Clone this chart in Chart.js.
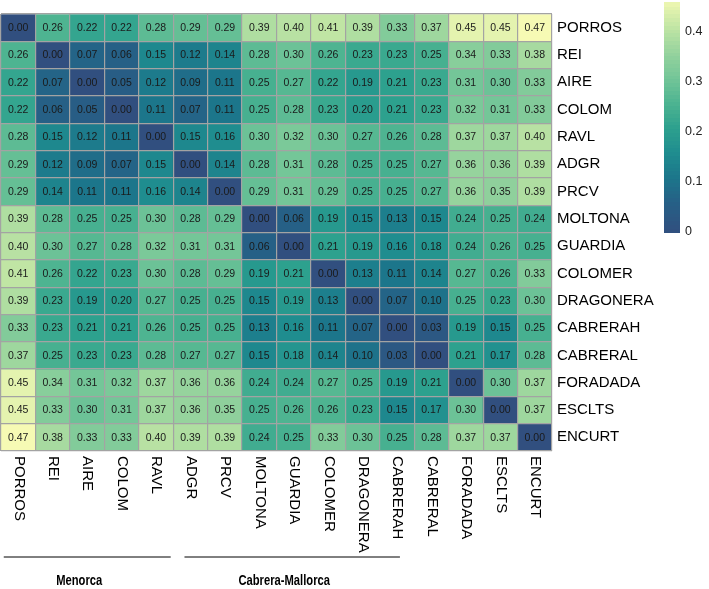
<!DOCTYPE html>
<html>
<head>
<meta charset="utf-8">
<script src="https://cdn.jsdelivr.net/npm/chart.js@4.4.1/dist/chart.umd.min.js"></script>
<style>
  body{margin:0;background:#fff}
</style>
</head>
<body>
<canvas id="chart" width="709" height="589"></canvas>
<script>
const sites = ['PORROS','REI','AIRE','COLOM','RAVL','ADGR','PRCV','MOLTONA','GUARDIA','COLOMER','DRAGONERA','CABRERAH','CABRERAL','FORADADA','ESCLTS','ENCURT']

// pairwise distances, one row per site
const porros    = [0.00,0.26,0.22,0.22,0.28,0.29,0.29,0.39,0.40,0.41,0.39,0.33,0.37,0.45,0.45,0.47]
const rei       = [0.26,0.00,0.07,0.06,0.15,0.12,0.14,0.28,0.30,0.26,0.23,0.23,0.25,0.34,0.33,0.38]
const aire      = [0.22,0.07,0.00,0.05,0.12,0.09,0.11,0.25,0.27,0.22,0.19,0.21,0.23,0.31,0.30,0.33]
const colom     = [0.22,0.06,0.05,0.00,0.11,0.07,0.11,0.25,0.28,0.23,0.20,0.21,0.23,0.32,0.31,0.33]
const ravl      = [0.28,0.15,0.12,0.11,0.00,0.15,0.16,0.30,0.32,0.30,0.27,0.26,0.28,0.37,0.37,0.40]
const adgr      = [0.29,0.12,0.09,0.07,0.15,0.00,0.14,0.28,0.31,0.28,0.25,0.25,0.27,0.36,0.36,0.39]
const prcv      = [0.29,0.14,0.11,0.11,0.16,0.14,0.00,0.29,0.31,0.29,0.25,0.25,0.27,0.36,0.35,0.39]
const moltona   = [0.39,0.28,0.25,0.25,0.30,0.28,0.29,0.00,0.06,0.19,0.15,0.13,0.15,0.24,0.25,0.24]
const guardia   = [0.40,0.30,0.27,0.28,0.32,0.31,0.31,0.06,0.00,0.21,0.19,0.16,0.18,0.24,0.26,0.25]
const colomer   = [0.41,0.26,0.22,0.23,0.30,0.28,0.29,0.19,0.21,0.00,0.13,0.11,0.14,0.27,0.26,0.33]
const dragonera = [0.39,0.23,0.19,0.20,0.27,0.25,0.25,0.15,0.19,0.13,0.00,0.07,0.10,0.25,0.23,0.30]
const cabrerah  = [0.33,0.23,0.21,0.21,0.26,0.25,0.25,0.13,0.16,0.11,0.07,0.00,0.03,0.19,0.15,0.25]
const cabreral  = [0.37,0.25,0.23,0.23,0.28,0.27,0.27,0.15,0.18,0.14,0.10,0.03,0.00,0.21,0.17,0.28]
const foradada  = [0.45,0.34,0.31,0.32,0.37,0.36,0.36,0.24,0.24,0.27,0.25,0.19,0.21,0.00,0.30,0.37]
const esclts    = [0.45,0.33,0.30,0.31,0.37,0.36,0.35,0.25,0.26,0.26,0.23,0.15,0.17,0.30,0.00,0.37]
const encurt    = [0.47,0.38,0.33,0.33,0.40,0.39,0.39,0.24,0.25,0.33,0.30,0.25,0.28,0.37,0.37,0.00]

const rows = [porros,rei,aire,colom,ravl,adgr,prcv,moltona,guardia,colomer,dragonera,cabrerah,cabreral,foradada,esclts,encurt]

const legendTicks = [0, 0.1, 0.2, 0.3, 0.4]
const legendMax = 0.46
const groupNames = ['Menorca', 'Cabrera-Mallorca']

// colour ramp (dark blue -> teal -> green -> pale yellow)
const ramp = [
  [0.00, [49,79,127]],
  [0.06, [38,96,134]],
  [0.11, [28,118,139]],
  [0.16, [31,141,143]],
  [0.21, [45,161,142]],
  [0.26, [78,180,145]],
  [0.31, [116,198,152]],
  [0.36, [150,211,157]],
  [0.41, [192,229,164]],
  [0.47, [246,250,180]]
]
function colorFor(v){
  if(v <= ramp[0][0]) return 'rgb(' + ramp[0][1].join(',') + ')'
  for(let i=1;i<ramp.length;i++){
    if(v <= ramp[i][0]){
      let t=(v-ramp[i-1][0])/(ramp[i][0]-ramp[i-1][0])
      let a=ramp[i-1][1], b=ramp[i][1]
      return 'rgb(' + a.map((c,k)=>Math.round(c+(b[k]-c)*t)).join(',') + ')'
    }
  }
  return 'rgb(' + ramp[ramp.length-1][1].join(',') + ')'
}

const FONT = '"Liberation Sans", Arial, Helvetica, sans-serif'

const datasets = rows.map((vals, r) => ({
  label: sites[r],
  data: vals.map(() => [r, r+1]),
  backgroundColor: vals.map(v => colorFor(v)),
  borderWidth: 0,
  barPercentage: 1,
  categoryPercentage: 1,
  grouped: false
}))

const cellText = {
  id: 'cellText',
  afterDraw(chart){
    const ctx = chart.ctx
    ctx.save()
    ctx.font = '10.5px ' + FONT
    ctx.fillStyle = '#1a1a1a'
    ctx.textAlign = 'center'
    ctx.textBaseline = 'middle'
    chart.data.datasets.forEach((ds, i) => {
      chart.getDatasetMeta(i).data.forEach((bar, j) => {
        ctx.fillText(rows[i][j].toFixed(2), bar.x, (bar.y + bar.base) / 2 + 0.5)
      })
    })
    ctx.restore()
  }
}

const bottomLabels = {
  id: 'bottomLabels',
  afterDraw(chart){
    const ctx = chart.ctx
    const xs = chart.scales.x
    const area = chart.chartArea
    ctx.save()
    ctx.font = '15px ' + FONT
    ctx.fillStyle = '#000'
    ctx.textAlign = 'left'
    ctx.textBaseline = 'middle'
    sites.forEach((s, i) => {
      ctx.save()
      ctx.translate(xs.getPixelForValue(i) + 0.5, area.bottom + 5)
      ctx.rotate(Math.PI / 2)
      ctx.fillText(s, 0, 0)
      ctx.restore()
    })
    // group brackets
    const w = area.right - area.left
    const lineY = area.bottom + 106
    const spans = [[0.005, 0.308], [0.333, 0.724]]
    ctx.strokeStyle = '#000'
    ctx.lineWidth = 1
    ctx.font = 'bold 14px ' + FONT
    ctx.textAlign = 'center'
    spans.forEach((sp, k) => {
      let x0 = area.left + sp[0] * w, x1 = area.left + sp[1] * w
      ctx.beginPath()
      ctx.moveTo(x0, lineY)
      ctx.lineTo(x1, lineY)
      ctx.stroke()
      // condensed look of the original label font
      ctx.save()
      ctx.translate((x0 + x1) / 2 - 8, lineY + 24)
      ctx.scale(0.8, 1)
      ctx.fillText(groupNames[k], 0, 0)
      ctx.restore()
    })
    ctx.restore()
  }
}

const colorBar = {
  id: 'colorBar',
  afterDraw(chart){
    const ctx = chart.ctx
    const x = 664, w = 16, top = 2, bottom = 232
    ctx.save()
    const steps = 60
    for(let i=0;i<steps;i++){
      let v0 = legendMax * i / steps
      let y1 = bottom - (bottom - top) * i / steps
      let y0 = bottom - (bottom - top) * (i + 1) / steps
      ctx.fillStyle = colorFor(v0 + legendMax / steps / 2)
      ctx.fillRect(x, Math.floor(y0), w, Math.ceil(y1 - y0) + 1)
    }
    ctx.fillStyle = '#222'
    ctx.font = '12.5px ' + FONT
    ctx.textAlign = 'left'
    ctx.textBaseline = 'middle'
    legendTicks.forEach(t => {
      let y = bottom - (bottom - top) * t / legendMax
      ctx.fillText(String(t), x + w + 5, y)
    })
    ctx.restore()
  }
}

new Chart(document.getElementById('chart'), {
  type: 'bar',
  data: { labels: sites, datasets: datasets },
  options: {
    responsive: false,
    animation: false,
    layout: { padding: { top: 1, left: 1, right: 0, bottom: 0 } },
    plugins: { legend: { display: false }, tooltip: { enabled: false } },
    scales: {
      x: {
        type: 'category',
        offset: true,
        ticks: { display: false },
        border: { display: false },
        grid: { offset: true, color: '#a3a3a3', lineWidth: 1.2, drawTicks: false, z: 1 },
        afterFit: s => { s.height = 138 }
      },
      y: {
        type: 'linear',
        min: 0,
        max: 16,
        reverse: true,
        ticks: { display: false, stepSize: 1 },
        border: { display: false },
        grid: { color: '#a3a3a3', lineWidth: 1.2, drawTicks: false, z: 1 },
        afterFit: s => { s.width = 0 }
      },
      yr: {
        type: 'category',
        position: 'right',
        labels: sites,
        offset: true,
        grid: { display: false, drawTicks: false },
        border: { display: false },
        ticks: { color: '#000', font: { size: 15, family: FONT }, padding: 5 },
        afterFit: s => { s.width = 157 }
      }
    }
  },
  plugins: [cellText, bottomLabels, colorBar]
})
</script>
</body>
</html>
